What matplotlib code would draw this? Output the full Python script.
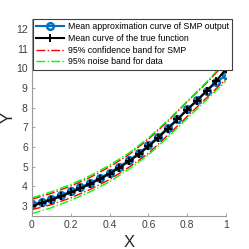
import matplotlib
matplotlib.use("Agg")
import matplotlib.pyplot as plt
import numpy as np

plt.rcParams['font.family'] = ['Liberation Sans', 'DejaVu Sans']

# sample points
x = [0, 0.05, 0.1, 0.15, 0.2, 0.25, 0.3, 0.35, 0.4, 0.45, 0.5,
     0.55, 0.6, 0.65, 0.7, 0.75, 0.8, 0.85, 0.9, 0.95, 1.0]
# mean approximation of SMP output
y_smp = [3.1, 3.2, 3.37, 3.55, 3.75, 3.95, 4.18, 4.43, 4.7, 5.0, 5.33,
         5.68, 6.08, 6.52, 6.98, 7.42, 7.92, 8.37, 8.85, 9.28, 9.65]
# mean of the true function
y_true = [3.0, 3.17, 3.33, 3.5, 3.7, 3.9, 4.13, 4.38, 4.65, 4.95, 5.28,
          5.63, 6.03, 6.47, 6.93, 7.4, 7.9, 8.35, 8.85, 9.35, 9.97]

# bands
xb = [0, 0.1, 0.2, 0.3, 0.4, 0.5, 0.6, 0.7, 0.8, 0.9, 1.0]
conf_up = [3.35, 3.65, 4.02, 4.46, 5.0, 5.62, 6.4, 7.3, 8.3, 9.25, 10.3]
conf_lo = [2.82, 3.08, 3.42, 3.85, 4.35, 4.98, 5.68, 6.6, 7.55, 8.5, 9.45]
noise_up = [3.42, 3.73, 4.1, 4.55, 5.08, 5.7, 6.46, 7.36, 8.33, 9.3, 10.4]
noise_lo = [2.62, 2.92, 3.3, 3.73, 4.24, 4.88, 5.6, 6.5, 7.45, 8.4, 9.35]

fig = plt.figure(figsize=(2.49, 2.49), dpi=100)
ax = fig.add_axes([0.1285, 0.1325, 0.7791, 0.7912])

blue = (0, 0.447, 0.741)
ax.plot(x, y_smp, '-o', color=blue, lw=1.5, ms=4.8, mfc='none', mew=1.8,
        label='Mean approximation curve of SMP output')
ax.plot(x, y_true, '-+', color='k', lw=1.5, ms=5.5, mew=1.4,
        label='Mean curve of the true function')
ax.plot(xb, conf_up, '-.', color='r', lw=1,
        label='95% confidence band for SMP')
ax.plot(xb, conf_lo, '-.', color='r', lw=1)
ax.plot(xb, noise_up, '-.', color='#00ff00', lw=1,
        label='95% noise band for data')
ax.plot(xb, noise_lo, '-.', color='#00ff00', lw=1)

ax.set_xlim(0, 1)
ax.set_ylim(2.5, 12.5)
ax.set_xticks([0, 0.2, 0.4, 0.6, 0.8, 1])
ax.set_xticklabels(['0', '0.2', '0.4', '0.6', '0.8', '1'])
ax.set_yticks(range(3, 13))

for s in ['top', 'right']:
    ax.spines[s].set_visible(False)
for s in ['left', 'bottom']:
    ax.spines[s].set_color('#999999')
    ax.spines[s].set_linewidth(0.8)
ax.tick_params(direction='in', length=2.5, width=0.6, colors='#999999',
               labelcolor='#404040', labelsize=7.5, pad=3)

ax.set_xlabel('X', fontsize=12, color='#262626')
ax.set_ylabel('Y', fontsize=12, color='#262626')
ax.xaxis.set_label_coords(0.5, -0.095)
ax.yaxis.set_label_coords(-0.085, 0.5)

leg = ax.legend(loc='upper left', bbox_to_anchor=(33 / 249, 1 - 19 / 249),
                bbox_transform=fig.transFigure, fontsize=6.3, frameon=True,
                fancybox=False, edgecolor='#404040', framealpha=1,
                handlelength=3.2, handletextpad=0.4, borderpad=0.35,
                labelspacing=0.32, borderaxespad=0)
leg.get_frame().set_linewidth(0.8)

fig.savefig('out.png', dpi=100)
